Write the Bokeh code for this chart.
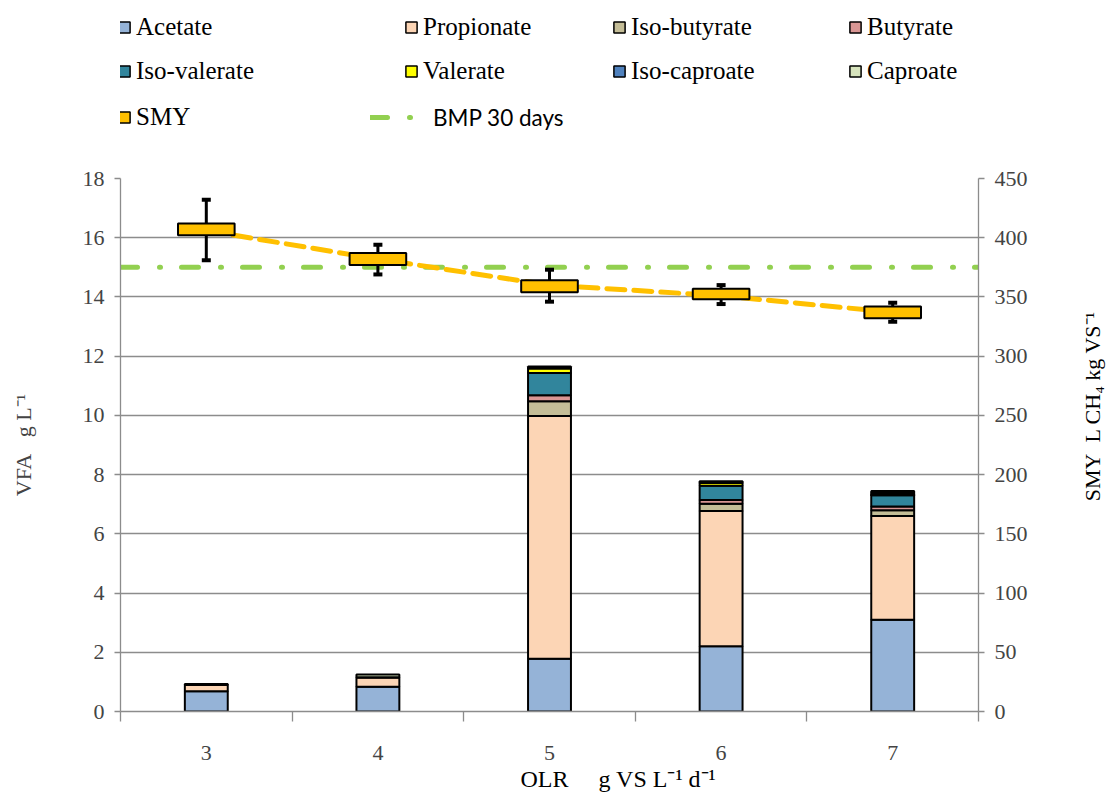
import math
from bokeh.plotting import figure
from bokeh.layouts import column, row
from bokeh.models import (Range1d, LinearAxis, FixedTicker, Legend, LegendItem,
                          ColumnDataSource, Title, Label)
from bokeh.embed import file_html
from bokeh.resources import INLINE

# ---------------- data ----------------
olr = [3, 4, 5, 6, 7]
acids = ["Acetate", "Propionate", "Iso-butyrate", "Butyrate",
         "Iso-valerate", "Valerate", "Iso-caproate", "Caproate"]
acetate      = [0.68, 0.84, 1.78, 2.20, 3.10]
propionate   = [0.22, 0.32, 8.20, 4.57, 3.50]
iso_butyrate = [0.00, 0.00, 0.50, 0.25, 0.20]
butyrate     = [0.00, 0.00, 0.20, 0.12, 0.12]
iso_valerate = [0.00, 0.00, 0.75, 0.48, 0.38]
valerate     = [0.00, 0.00, 0.15, 0.10, 0.03]
iso_caproate = [0.00, 0.00, 0.03, 0.03, 0.05]
caproate     = [0.03, 0.09, 0.04, 0.03, 0.07]
acid_colors = ["#95B3D7", "#FCD5B5", "#C4BD97", "#D99694",
               "#31859C", "#FFFF00", "#4F81BD", "#D7E4BD"]

smy_mean     = [406, 382, 360, 351, 337]
box_low      = [402, 377, 354, 348, 332]
box_high     = [412, 387, 364, 357, 342]
whisker_low  = [381, 369, 346, 344, 329]
whisker_high = [432, 394, 373, 360, 345]
bmp_30 = 375

vfa_ticks = list(range(0, 19, 2))
smy_ticks = list(range(0, 451, 50))

SMY_COLOR = "#FFC000"
BMP_COLOR = "#92D050"
GRAY = "#8c8c8c"
SERIF = "Liberation Serif"

# ---------------- layout constants (pixels) ----------------
TOTAL_W, TOTAL_H = 1109, 796
LEG_FIG_H = 150
FRAME_LEFT, FRAME_RIGHT, FRAME_TOP, FRAME_BOTTOM = 120, 978, 178, 711
TITLE_W = 35                   # strip at the right holding the SMY title
P_W = TOTAL_W - TITLE_W
P_H = TOTAL_H - LEG_FIG_H
X_TITLE_LEFT = 520             # page x where the OLR title starts
SMY_TITLE_CENTER = 258         # right title centre, in SMY units

# ---------------- chart ----------------
src = ColumnDataSource(dict(olr=olr, Acetate=acetate, Propionate=propionate,
                            **{"Iso-butyrate": iso_butyrate, "Butyrate": butyrate,
                               "Iso-valerate": iso_valerate, "Valerate": valerate,
                               "Iso-caproate": iso_caproate, "Caproate": caproate}))

x_start, x_end = olr[0] - 0.5, olr[-1] + 0.5
p = figure(width=P_W, height=P_H, x_range=Range1d(x_start, x_end),
           y_range=Range1d(vfa_ticks[0], vfa_ticks[-1]),
           output_backend="svg", toolbar_location=None,
           min_border_left=FRAME_LEFT, min_border_right=P_W - FRAME_RIGHT,
           min_border_top=FRAME_TOP - LEG_FIG_H, min_border_bottom=TOTAL_H - FRAME_BOTTOM)
p.extra_y_ranges = {"smy": Range1d(smy_ticks[0], smy_ticks[-1])}
p.outline_line_color = None
p.xgrid.visible = False
p.ygrid.ticker = FixedTicker(ticks=vfa_ticks)
p.ygrid.grid_line_color = GRAY
p.ygrid.grid_line_width = 1.3

xa = p.xaxis[0]
xa.ticker = FixedTicker(ticks=olr, minor_ticks=[v - 0.5 for v in olr] + [olr[-1] + 0.5])
xa.major_tick_out = 0
xa.major_tick_in = 0
xa.minor_tick_out = 10
xa.minor_tick_in = 0
xa.minor_tick_line_color = GRAY
xa.minor_tick_line_width = 1.3
xa.axis_line_color = GRAY
xa.axis_line_width = 1.3
xa.major_label_text_font = SERIF
xa.major_label_text_font_size = "22px"
xa.major_label_standoff = 24

xt = Title(text="OLR\u00a0\u00a0\u00a0\u00a0\u00a0g VS L\u207b\u00b9 d\u207b\u00b9",
           align="left", offset=X_TITLE_LEFT - FRAME_LEFT, standoff=2,
           text_font=SERIF, text_font_size="24px", text_font_style="normal",
           text_color="black")
p.add_layout(xt, "below")


def style_y(ax):
    ax.major_tick_out = 6
    ax.major_tick_in = 0
    ax.minor_tick_out = 0
    ax.minor_tick_in = 0
    ax.major_tick_line_color = GRAY
    ax.major_tick_line_width = 1.3
    ax.axis_line_color = GRAY
    ax.axis_line_width = 1.3
    ax.major_label_text_font = SERIF
    ax.major_label_text_font_size = "22px"
    ax.major_label_standoff = 10


ya = p.yaxis[0]
ya.ticker = FixedTicker(ticks=vfa_ticks)
style_y(ya)
ya.axis_label = "VFA\u00a0\u00a0\u00a0g L\u207b\u00b9"
ya.axis_label_text_font = SERIF
ya.axis_label_text_font_size = "22px"
ya.axis_label_text_font_style = "normal"
ya.axis_label_standoff = 44

ra = LinearAxis(y_range_name="smy", ticker=FixedTicker(ticks=smy_ticks))
style_y(ra)
p.add_layout(ra, "right")

bars = p.vbar_stack(acids, x="olr", width=0.25, source=src,
                    fill_color=acid_colors, line_color="black", line_width=2)
p.line(x=[x_start, x_end], y=[bmp_30, bmp_30], y_range_name="smy",
       line_color=BMP_COLOR, line_width=5, line_dash="17 22 1 21", line_cap="round")
p.line(x=olr, y=smy_mean, y_range_name="smy", line_color=SMY_COLOR,
       line_width=5, line_dash="18 9", line_cap="round")
p.segment(x0=olr, y0=whisker_low, x1=olr, y1=whisker_high, y_range_name="smy",
          line_color="black", line_width=3)
p.vbar(x=olr, bottom=box_low, top=box_high, width=0.33, y_range_name="smy",
       fill_color=SMY_COLOR, line_color="black", line_width=2)
p.scatter(x=olr, y=whisker_high, marker="dash", size=9, line_width=4,
          line_color="black", y_range_name="smy")
p.scatter(x=olr, y=whisker_low, marker="dash", size=9, line_width=4,
          line_color="black", y_range_name="smy")

# ---------------- right title strip ----------------
rf = figure(width=TITLE_W, height=P_H, x_range=Range1d(0, 1),
            y_range=Range1d(smy_ticks[0], smy_ticks[-1]),
            x_axis_location=None, y_axis_location=None,
            min_border_left=0, min_border_right=0,
            min_border_top=FRAME_TOP - LEG_FIG_H, min_border_bottom=TOTAL_H - FRAME_BOTTOM,
            output_backend="svg", toolbar_location=None)
rf.outline_line_color = None
rf.grid.visible = False
rf.add_layout(Label(x=0.5, y=SMY_TITLE_CENTER, text="SMY\u00a0\u00a0L CH\u2084 kg VS\u207b\u00b9",
                    angle=90, angle_units="deg", text_align="center", text_baseline="middle",
                    text_font=SERIF, text_font_size="22px", text_color="black"))

# ---------------- legend panel (hidden renderers only feed the legend) ----------------
lf = figure(width=TOTAL_W, height=LEG_FIG_H, x_range=Range1d(x_start, x_end),
            y_range=Range1d(vfa_ticks[0], vfa_ticks[-1]),
            x_axis_location=None, y_axis_location=None, min_border=0,
            min_border_left=FRAME_LEFT, min_border_right=TOTAL_W - FRAME_RIGHT,
            output_backend="svg", toolbar_location=None)
lf.outline_line_color = None
lf.grid.visible = False

LEG_H = 30
leg_src = ColumnDataSource(src.data)


def legend_at(label, rend, left_px, center_py, glyph_w=14, font=SERIF, size="25px"):
    rend.visible = False
    leg = Legend(items=[LegendItem(label=label, renderers=[rend])],
                 location=(left_px - FRAME_LEFT, LEG_FIG_H - center_py - LEG_H / 2),
                 orientation="vertical", padding=0, margin=0, spacing=0,
                 border_line_color=None, background_fill_alpha=0,
                 glyph_width=glyph_w, glyph_height=14, label_height=LEG_H,
                 label_standoff=5, label_text_font=font,
                 label_text_font_size=size, label_text_color="black")
    lf.add_layout(leg)


col_x = [117, 404, 612, 848]
row_y = [27, 71, 117]
leg_bars = lf.vbar_stack(acids, x="olr", width=0.25, source=leg_src,
                         fill_color=acid_colors, line_color="black", line_width=1.5)
for i, name in enumerate(acids):
    legend_at(name, leg_bars[i], col_x[i % 4], row_y[i // 4])
r_smy = lf.vbar(x=olr, bottom=box_low, top=box_high, width=0.33,
                fill_color=SMY_COLOR, line_color="black", line_width=1.5)
legend_at("SMY", r_smy, col_x[0], row_y[2])
r_bmp = lf.line(x=olr, y=[bmp_30] * len(olr), line_color=BMP_COLOR, line_width=5,
                line_dash="17 22 1 21", line_cap="round")
legend_at("BMP 30 days", r_bmp, 370, row_y[2], glyph_w=58, font="Lato", size="22.5px")

layout = column(lf, row(p, rf, spacing=0), spacing=0)
open("out.html", "w").write(file_html(layout, INLINE))
